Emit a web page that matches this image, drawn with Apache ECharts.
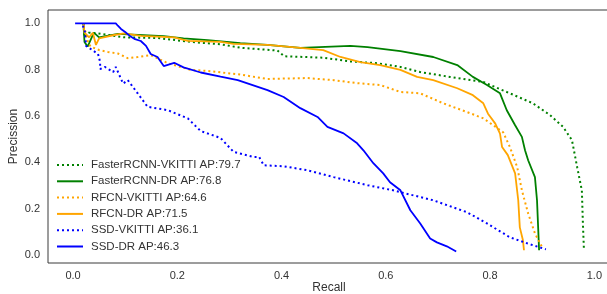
<!DOCTYPE html>
<html>
<head>
<meta charset="utf-8">
<script src="https://cdn.jsdelivr.net/npm/echarts@6/dist/echarts.min.js"></script>
<style>
  html, body { margin: 0; padding: 0; background: #fff; }
  #chart { width: 607px; height: 294px; }
</style>
</head>
<body>
<div id="chart"></div>
<script>
// 图例名称
const SERIES_NAMES = [
  "FasterRCNN-VKITTI AP:79.7",
  "FasterRCNN-DR AP:76.8",
  "RFCN-VKITTI AP:64.6",
  "RFCN-DR AP:71.5",
  "SSD-VKITTI AP:36.1",
  "SSD-DR AP:46.3",
];
const TICKS = [0.0, 0.2, 0.4, 0.6, 0.8, 1.0];

// FasterRCNN-VKITTI
const frVkittiRecall = [0.02, 0.022, 0.03, 0.048, 0.098, 0.162, 0.226, 0.283, 0.321, 0.392, 0.405, 0.48, 0.532, 0.584, 0.628, 0.666, 0.723, 0.787, 0.838, 0.882, 0.915, 0.94, 0.957, 0.967, 0.976, 0.978, 0.98];
const frVkittiPrecision = [1.0, 0.94, 0.96, 0.957, 0.94, 0.937, 0.92, 0.91, 0.895, 0.883, 0.858, 0.852, 0.836, 0.828, 0.812, 0.79, 0.769, 0.747, 0.698, 0.655, 0.604, 0.553, 0.496, 0.379, 0.279, 0.136, 0.022];

// FasterRCNN-DR
const frDrRecall = [0.02, 0.022, 0.028, 0.034, 0.04, 0.05, 0.086, 0.174, 0.212, 0.258, 0.321, 0.373, 0.436, 0.532, 0.565, 0.628, 0.691, 0.737, 0.767, 0.794, 0.819, 0.832, 0.848, 0.861, 0.867, 0.873, 0.886, 0.89, 0.894];
const frDrPrecision = [1.0, 0.92, 0.9, 0.93, 0.96, 0.94, 0.955, 0.945, 0.935, 0.928, 0.915, 0.907, 0.894, 0.903, 0.898, 0.88, 0.855, 0.82, 0.769, 0.734, 0.698, 0.625, 0.56, 0.51, 0.452, 0.409, 0.336, 0.236, 0.02];

// RFCN-VKITTI
const rfVkittiRecall = [0.02, 0.026, 0.029, 0.034, 0.05, 0.067, 0.086, 0.105, 0.124, 0.149, 0.182, 0.226, 0.258, 0.321, 0.373, 0.449, 0.5, 0.545, 0.589, 0.628, 0.666, 0.71, 0.756, 0.787, 0.806, 0.825, 0.838, 0.852, 0.861, 0.873, 0.886, 0.9];
const rfVkittiPrecision = [0.99, 0.95, 0.915, 0.9, 0.885, 0.877, 0.87, 0.85, 0.855, 0.863, 0.828, 0.799, 0.795, 0.779, 0.76, 0.764, 0.755, 0.742, 0.734, 0.704, 0.698, 0.655, 0.617, 0.59, 0.56, 0.53, 0.466, 0.379, 0.279, 0.179, 0.093, 0.032];

// RFCN-DR
const rfDrRecall = [0.02, 0.022, 0.031, 0.038, 0.044, 0.05, 0.079, 0.098, 0.13, 0.194, 0.22, 0.283, 0.308, 0.373, 0.436, 0.48, 0.513, 0.551, 0.589, 0.628, 0.66, 0.691, 0.737, 0.767, 0.787, 0.796, 0.81, 0.819, 0.823, 0.834, 0.848, 0.854, 0.857, 0.863, 0.865];
const rfDrPrecision = [1.0, 0.96, 0.94, 0.96, 0.907, 0.935, 0.95, 0.957, 0.946, 0.94, 0.925, 0.92, 0.912, 0.907, 0.894, 0.885, 0.855, 0.833, 0.82, 0.799, 0.769, 0.755, 0.72, 0.69, 0.655, 0.61, 0.567, 0.524, 0.466, 0.431, 0.352, 0.236, 0.119, 0.063, 0.02];

// SSD-VKITTI
const ssdVkittiRecall = [0.019, 0.023, 0.025, 0.048, 0.052, 0.052, 0.061, 0.077, 0.082, 0.096, 0.105, 0.124, 0.143, 0.182, 0.22, 0.245, 0.283, 0.308, 0.347, 0.357, 0.366, 0.404, 0.449, 0.5, 0.526, 0.565, 0.614, 0.628, 0.691, 0.756, 0.794, 0.838, 0.871, 0.907];
const ssdVkittiPrecision = [0.99, 0.963, 0.903, 0.868, 0.833, 0.803, 0.812, 0.79, 0.812, 0.74, 0.755, 0.698, 0.64, 0.625, 0.59, 0.535, 0.505, 0.445, 0.423, 0.423, 0.387, 0.383, 0.366, 0.336, 0.322, 0.301, 0.279, 0.271, 0.236, 0.184, 0.136, 0.076, 0.05, 0.024];

// SSD-DR
const ssdDrRecall = [0.004, 0.082, 0.086, 0.092, 0.1, 0.109, 0.119, 0.13, 0.14, 0.149, 0.162, 0.174, 0.194, 0.212, 0.245, 0.283, 0.316, 0.373, 0.404, 0.436, 0.469, 0.488, 0.519, 0.545, 0.557, 0.576, 0.595, 0.608, 0.628, 0.647, 0.666, 0.685, 0.698, 0.717, 0.735];
const ssdDrPrecision = [1.0, 1.0, 0.99, 0.976, 0.963, 0.946, 0.932, 0.924, 0.903, 0.868, 0.855, 0.816, 0.83, 0.81, 0.788, 0.77, 0.755, 0.712, 0.682, 0.634, 0.596, 0.553, 0.525, 0.482, 0.452, 0.396, 0.352, 0.314, 0.279, 0.193, 0.136, 0.071, 0.054, 0.037, 0.015];

const GREEN = "#008000";
const ORANGE = "#FFA500";
const BLUE = "#0000FF";
const DOTS = [2, 3];

function zip(xs, ys) {
  return xs.map((x, i) => [x, ys[i]]);
}

function makeSeries(name, xs, ys, color, dotted) {
  return {
    name: name,
    type: "line",
    data: zip(xs, ys),
    showSymbol: false,
    symbol: "none",
    animation: false,
    color: color,
    lineStyle: {
      color: color,
      width: dotted ? 2 : 1.8,
      type: dotted ? DOTS : "solid",
    },
  };
}

const chart = echarts.init(document.getElementById("chart"));
const labelStyle = {
  color: "#333",
  fontSize: 11,
  fontFamily: "Liberation Sans, Arial, sans-serif",
};
chart.setOption({
  animation: false,
  grid: {
    left: 48,
    top: 10,
    width: 562,
    bottom: 31,
    outerBoundsMode: "none",
    containLabel: false,
    show: true,
    borderColor: "#3a3a3a",
    borderWidth: 1,
    backgroundColor: "#fff",
  },
  legend: {
    orient: "vertical",
    left: 56,
    top: 159,
    itemWidth: 26,
    itemHeight: 12,
    itemGap: 4.3,
    padding: 0,
    data: SERIES_NAMES,
    itemStyle: { color: "transparent", borderColor: "transparent", borderWidth: 0 },
    textStyle: Object.assign({}, labelStyle, { fontSize: 11.5, lineHeight: 12, padding: [0, 0, 0, 3] }),
  },
  xAxis: {
    type: "value",
    min: -0.048,
    max: 1.03,
    name: "Recall",
    nameLocation: "middle",
    nameGap: 19,
    nameMoveOverlap: false,
    nameTextStyle: Object.assign({}, labelStyle, { fontSize: 12 }),
    axisLine: { show: false },
    axisTick: { show: false },
    splitLine: { show: false },
    axisLabel: Object.assign({}, labelStyle, {
      customValues: TICKS,
      margin: 7,
      formatter: (v) => v.toFixed(1),
    }),
  },
  yAxis: {
    type: "value",
    min: -0.035,
    max: 1.058,
    name: "Precission",
    nameLocation: "middle",
    nameGap: 28,
    nameMoveOverlap: false,
    nameTextStyle: Object.assign({}, labelStyle, { fontSize: 12 }),
    axisLine: { show: false },
    axisTick: { show: false },
    splitLine: { show: false },
    axisLabel: Object.assign({}, labelStyle, {
      customValues: TICKS,
      margin: 8,
      formatter: (v) => v.toFixed(1),
    }),
  },
  series: [
    makeSeries(SERIES_NAMES[0], frVkittiRecall, frVkittiPrecision, GREEN, true),
    makeSeries(SERIES_NAMES[1], frDrRecall, frDrPrecision, GREEN, false),
    makeSeries(SERIES_NAMES[2], rfVkittiRecall, rfVkittiPrecision, ORANGE, true),
    makeSeries(SERIES_NAMES[3], rfDrRecall, rfDrPrecision, ORANGE, false),
    makeSeries(SERIES_NAMES[4], ssdVkittiRecall, ssdVkittiPrecision, BLUE, true),
    makeSeries(SERIES_NAMES[5], ssdDrRecall, ssdDrPrecision, BLUE, false),
  ],
});
</script>
</body>
</html>
